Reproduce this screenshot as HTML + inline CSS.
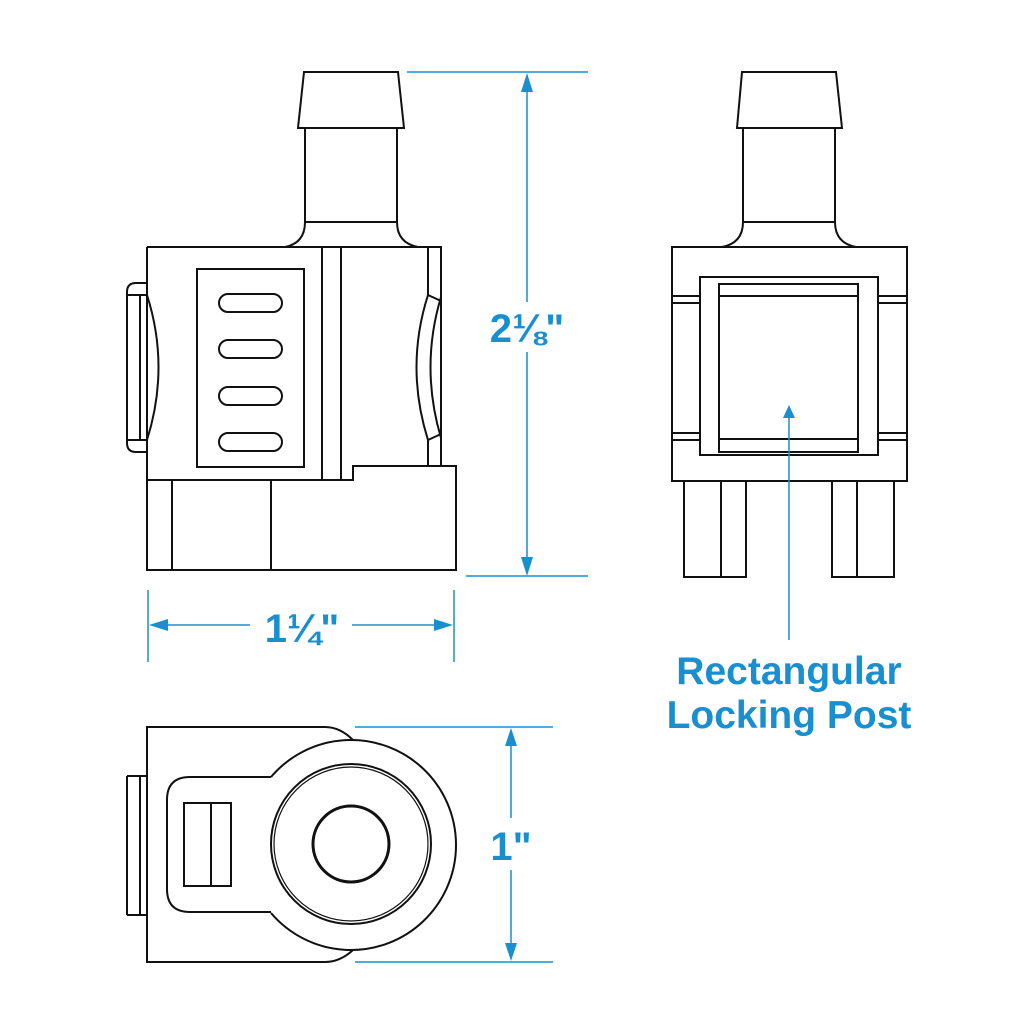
<!DOCTYPE html>
<html><head><meta charset="utf-8"><style>
html,body{margin:0;padding:0;background:#fff;}
svg{display:block;}
text{font-family:"Liberation Sans",sans-serif;font-weight:bold;fill:#1a8fd0;}
</style></head><body>
<svg width="1024" height="1024" viewBox="0 0 1024 1024" xmlns="http://www.w3.org/2000/svg">
<rect width="1024" height="1024" fill="#fff"/>
<g fill="none" stroke="#111" stroke-width="2">
<!-- LEFT VIEW -->
<path d="M304,72 L398,72 L404,128 L298,128 Z"/>
<path d="M305,128 L305,222 M397,128 L397,222 M305,222 L397,222"/>
<path d="M285,247 Q305,243 305,222 M418,247 Q397,243 397,222"/>
<path d="M147,247 L441,247 L441,466 M147,247 L147,570 L456,570 L456,466 L353,466 L353,480 L147,480"/>
<rect x="197" y="269" width="107" height="198"/>
<rect x="219" y="294" width="63" height="18" rx="9"/>
<rect x="219" y="340" width="63" height="18" rx="9"/>
<rect x="219" y="387" width="63" height="18" rx="9"/>
<rect x="219" y="433" width="63" height="18" rx="9"/>
<path d="M322,247 L322,480 M341,247 L341,480"/>
<path d="M172,480 L172,570 M271,480 L271,570"/>
<path d="M428,247 L428,295 M428,440 L428,466"/>
<path d="M428,295 Q405,367 428,440 M441,297 Q420,367 441,438 M428,295 L441,301 M428,440 L441,434"/>
<path d="M147,283 L136,283 Q127,283 127,292 L127,443 Q127,452 136,452 L147,452"/>
<path d="M140,295 L140,440 M127,295 L147,295 M127,440 L147,440"/>
<path d="M147,295 Q170,367 147,440"/>
<!-- RIGHT VIEW -->
<path d="M742,72 L836,72 L842,128 L737,128 Z"/>
<path d="M743,128 L743,222 M835,128 L835,222 M743,222 L835,222"/>
<path d="M722,247 Q743,243 743,222 M856,247 Q835,243 835,222"/>
<rect x="672" y="247" width="235" height="234"/>
<rect x="700" y="277" width="178" height="178"/>
<rect x="719" y="284" width="139" height="168"/>
<path d="M719,296 L858,296 M719,439 L858,439"/>
<path d="M672,296 L700,296 M672,303 L700,303 M878,296 L907,296 M878,303 L907,303"/>
<path d="M672,433 L700,433 M672,440 L700,440 M878,433 L907,433 M878,440 L907,440"/>
<path d="M684,481 L684,577 L746,577 L746,481 M721,481 L721,577"/>
<path d="M832,481 L832,577 L894,577 L894,481 M857,481 L857,577"/>
<!-- BOTTOM VIEW -->
<path d="M353,740 Q340,727 325,727 L147,727 L147,962 L325,962 Q340,962 353,950"/>
<path d="M271,777 A105,105 0 1 1 271,913"/>
<circle cx="351" cy="844" r="80"/>
<circle cx="351" cy="844" r="77" stroke-width="1.2"/>
<circle cx="351" cy="844" r="38" stroke-width="3"/>
<path d="M271,777 L190,777 Q167,777 167,800 L167,889 Q167,912 190,912 L271,912"/>
<path d="M127,776 L147,776 M127,915 L147,915 M127,776 L127,915 M140,776 L140,915"/>
<rect x="184" y="803" width="47" height="83"/>
<path d="M211,803 L211,886"/>
</g>
<g stroke="#1a8fd0" stroke-width="1.5" fill="none">
<path d="M407,72 L588,72 M466,576 L588,576"/>
<path d="M527,84 L527,302 M527,352 L527,564"/>
<path d="M148,590 L148,662 M454,590 L454,662"/>
<path d="M160,625 L250,625 M352,625 L442,625"/>
<path d="M355,727 L553,727 M355,962 L553,962"/>
<path d="M511,740 L511,818 M511,870 L511,950"/>
<path d="M789,418 L789,640"/>
</g>
<g fill="#1a8fd0">
<path d="M527,73 L521,92 L533,92 Z"/>
<path d="M527,576 L521,557 L533,557 Z"/>
<path d="M149,625 L168,619 L168,631 Z"/>
<path d="M453,625 L434,619 L434,631 Z"/>
<path d="M511,728 L505,746 L517,746 Z"/>
<path d="M511,961 L505,943 L517,943 Z"/>
<path d="M789,405 L783,418 L795,418 Z"/>
</g>
<text x="527" y="342" font-size="40" text-anchor="middle">2⅛"</text>
<text x="302" y="642" font-size="40" text-anchor="middle">1¼"</text>
<text x="511" y="860" font-size="40" text-anchor="middle">1"</text>
<text x="789" y="684" font-size="39" text-anchor="middle">Rectangular</text>
<text x="789" y="728" font-size="39" text-anchor="middle">Locking Post</text>
</svg>
</body></html>
